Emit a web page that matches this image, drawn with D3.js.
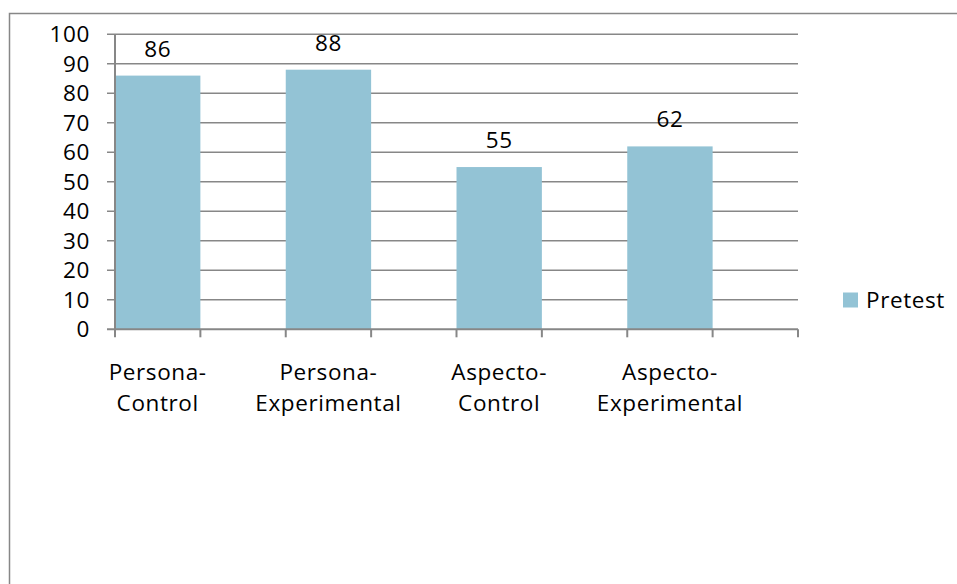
<!DOCTYPE html>
<html>
<head>
<meta charset="utf-8">
<script src="https://cdn.jsdelivr.net/npm/d3@7"></script>
<style>
  html, body { margin: 0; padding: 0; background: #fff; overflow: hidden; }
  svg { display: block; }
  text { font-family: "Open Sans", "Noto Sans", sans-serif; fill: #000; letter-spacing: 0.6px; }
</style>
</head>
<body>
<script>
// Chart data
const categories = ["Persona-Control", "Persona-Experimental", "Aspecto-Control", "Aspecto-Experimental"];
const pretest = [86, 88, 55, 62];
const yTicks = [0, 10, 20, 30, 40, 50, 60, 70, 80, 90, 100];
const seriesName = "Pretest";

const W = 957, H = 584;
const barColor = "#93c3d5";
const lineColor = "#878787";
const fontSize = 22.5;

const svg = d3.select("body").append("svg").attr("width", W).attr("height", H);

// outer chart border (runs past the right and bottom edges)
svg.append("rect")
  .attr("x", 9.5).attr("y", 13.5).attr("width", 980).attr("height", 620)
  .attr("fill", "none").attr("stroke", lineColor).attr("stroke-width", 1.5);

const plotLeft = 115, plotRight = 798, plotTop = 34.3, plotBottom = 329.3;

const y = d3.scaleLinear().domain([0, 100]).range([plotBottom, plotTop]);
const x = d3.scaleBand().domain(categories).range([plotLeft, plotRight]).padding(0);
const half = x.bandwidth() / 2;

// horizontal gridlines
svg.append("g").selectAll("line").data(yTicks.filter(d => d > 0)).join("line")
  .attr("x1", plotLeft - 8).attr("x2", plotRight)
  .attr("y1", d => y(d)).attr("y2", d => y(d))
  .attr("stroke", lineColor).attr("stroke-width", 1.5);

// bars (each occupies the first half of its category slot)
svg.append("g").selectAll("rect").data(categories).join("rect")
  .attr("x", d => x(d))
  .attr("width", half)
  .attr("y", (d, i) => y(pretest[i]))
  .attr("height", (d, i) => plotBottom - y(pretest[i]))
  .attr("fill", barColor);

// y axis line
svg.append("line")
  .attr("x1", plotLeft).attr("x2", plotLeft).attr("y1", plotTop).attr("y2", plotBottom)
  .attr("stroke", lineColor).attr("stroke-width", 2);

// x axis line with tick marks at every half slot
svg.append("line")
  .attr("x1", plotLeft - 8).attr("x2", plotRight).attr("y1", plotBottom).attr("y2", plotBottom)
  .attr("stroke", lineColor).attr("stroke-width", 2);
const xTickPos = [];
categories.forEach(c => { xTickPos.push(x(c)); xTickPos.push(x(c) + half); });
xTickPos.push(plotRight);
svg.append("g").selectAll("line").data(xTickPos).join("line")
  .attr("x1", d => d).attr("x2", d => d)
  .attr("y1", plotBottom).attr("y2", plotBottom + 8)
  .attr("stroke", lineColor).attr("stroke-width", 2);

// y tick labels
svg.append("g").selectAll("text").data(yTicks).join("text")
  .attr("x", 90).attr("y", d => y(d))
  .attr("dy", "0.36em")
  .attr("text-anchor", "end")
  .attr("font-size", fontSize)
  .text(d => d);

// value labels above bars
svg.append("g").selectAll("text").data(categories).join("text")
  .attr("x", d => x(d) + half / 2)
  .attr("y", (d, i) => y(pretest[i]) - 19)
  .attr("text-anchor", "middle")
  .attr("font-size", fontSize)
  .text((d, i) => pretest[i]);

// category labels, split after the hyphen
const catG = svg.append("g").selectAll("text").data(categories).join("text")
  .attr("text-anchor", "middle")
  .attr("font-size", fontSize);
catG.each(function(d) {
  const parts = d.split("-");
  const t = d3.select(this);
  const cx = x(d) + half / 2;
  t.append("tspan").attr("x", cx).attr("y", 380).text(parts[0] + "-");
  t.append("tspan").attr("x", cx).attr("y", 411).text(parts[1]);
});

// legend
svg.append("rect")
  .attr("x", 843).attr("y", 292.5).attr("width", 15).attr("height", 15)
  .attr("fill", barColor);
svg.append("text")
  .attr("x", 866).attr("y", 300).attr("dy", "0.36em")
  .attr("font-size", fontSize)
  .text(seriesName);
</script>
</body>
</html>
